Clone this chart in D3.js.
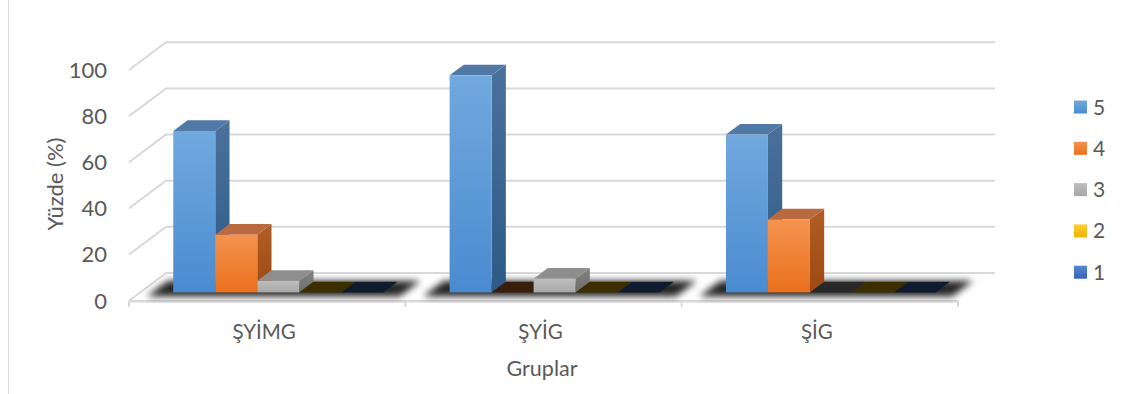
<!DOCTYPE html>
<html>
<head>
<meta charset="utf-8">
<script src="https://cdn.jsdelivr.net/npm/d3@7/dist/d3.min.js"></script>
<style>
  html, body { margin: 0; padding: 0; background: #fff; }
  svg { display: block; }
  text { font-family: Lato, "Open Sans", "Liberation Sans", sans-serif; fill: #595959; }
</style>
</head>
<body>
<svg id="chart" width="1134" height="394"></svg>
<script>
// Response share (%) per group, one array per rating level
const categories = ["ŞYİMG", "ŞYİG", "ŞİG"];
const seriesNames = ["5", "4", "3", "2", "1"];
const values5 = [70, 94.1, 68.4];
const values4 = [25, 0, 31.6];
const values3 = [5, 5.9, 0];
const values2 = [0, 0, 0];
const values1 = [0, 0, 0];
const yTicks = [0, 20, 40, 60, 80, 100];
const yTitle = "Yüzde (%)";
const xTitle = "Gruplar";

const seriesValues = [values5, values4, values3, values2, values1];
const seriesColors = ["#5B9BD5", "#ED7D31", "#A5A5A5", "#FFC000", "#4472C4"];
// face shading for each series: [front top, front bottom, side top, side bottom, top]
const shades = [
  ["#71a9de", "#4a8bd0", "#4b719b", "#2d5a87", "#5079a6"],
  ["#f4934f", "#ea711d", "#b05d26", "#9c4a12", "#b96b3f"],
  ["#bdbdbd", "#a8a8a8", "#808080", "#6f6f6f", "#8e8e8e"],
  ["#ffcc33", "#f0b400", "#b38700", "#a07800", "#c29200"],
  ["#5a86d4", "#3563b8", "#2f5191", "#25437c", "#3a5f9e"]
];

const svg = d3.select("#chart");
const defs = svg.append("defs");

// oblique projection: depth runs up and to the right
const DX = 37, DY = -27.7;
const x0 = 129, x1 = 958;
const y = d3.scaleLinear().domain([0, 100]).range([300.7, 70]);
const xBand = d3.scaleBand().domain(categories).range([x0, x1]).padding(0);
const xSeries = d3.scaleBand().domain(seriesNames).range([0, xBand.bandwidth()])
  .paddingInner(0).paddingOuter(0.79);

// depth slot occupied by the columns
const dFront = 0.30, dBack = 0.685;
const proj = (px, v, d) => [px + DX * d, y(v) + DY * d];

// chart area border (left edge)
svg.append("line").attr("x1", 8.5).attr("x2", 8.5).attr("y1", 0).attr("y2", 394)
  .attr("stroke", "#d9d9d9").attr("stroke-width", 1);

// gradients
shades.forEach((s, i) => {
  const gf = defs.append("linearGradient").attr("id", "front" + i)
    .attr("x1", 0).attr("y1", 0).attr("x2", 0).attr("y2", 1);
  gf.append("stop").attr("offset", 0).attr("stop-color", s[0]);
  gf.append("stop").attr("offset", 1).attr("stop-color", s[1]);
  const gs = defs.append("linearGradient").attr("id", "side" + i)
    .attr("x1", 0).attr("y1", 0).attr("x2", 0).attr("y2", 1);
  gs.append("stop").attr("offset", 0).attr("stop-color", s[2]);
  gs.append("stop").attr("offset", 1).attr("stop-color", s[3]);
});
const blur = defs.append("filter").attr("id", "soft")
  .attr("x", "-20%").attr("y", "-100%").attr("width", "140%").attr("height", "300%");
blur.append("feGaussianBlur").attr("stdDeviation", 3.5);

// walls: gridlines with their slanted side-wall segment
const grid = svg.append("g");
yTicks.forEach(t => {
  const a = proj(x0, t, 0), b = proj(x0, t, 1), c = proj(x1, t, 1);
  grid.append("path")
    .attr("d", d3.line()([a, b, c]))
    .attr("fill", "none").attr("stroke", "#d9d9d9").attr("stroke-width", 2);
});

// floor front edge and category ticks
svg.append("line").attr("x1", x0).attr("x2", x1).attr("y1", y(0) + 0.5).attr("y2", y(0) + 0.5)
  .attr("stroke", "#d9d9d9").attr("stroke-width", 2.5);
xBand.domain().concat([null]).forEach(c => {
  const xx = c === null ? x1 : xBand(c);
  svg.append("line").attr("x1", xx).attr("x2", xx).attr("y1", y(0)).attr("y2", y(0) + 6)
    .attr("stroke", "#d9d9d9").attr("stroke-width", 2);
});

// soft floor shadow under each cluster
categories.forEach(c => {
  const s = xBand(c) + 12, e = xBand(c) + 265;
  const pts = [proj(s, 0, 0.15), proj(e, 0, 0.15), proj(e, 0, 0.72), proj(s, 0, 0.72)];
  svg.append("path").attr("d", d3.line()(pts) + "Z")
    .attr("fill", "#000").attr("opacity", 0.85).attr("filter", "url(#soft)");
});

// 3D columns, drawn left to right so each one overlaps its neighbour's side
const bars = svg.append("g");
categories.forEach((c, ci) => {
  seriesNames.forEach((s, si) => {
    const v = seriesValues[si][ci];
    const bx0 = xBand(c) + xSeries(s);
    const bx1 = bx0 + xSeries.bandwidth();
    const fTL = proj(bx0, v, dFront), fTR = proj(bx1, v, dFront);
    const fBR = proj(bx1, 0, dFront), fBL = proj(bx0, 0, dFront);
    const bTL = proj(bx0, v, dBack), bTR = proj(bx1, v, dBack), bBR = proj(bx1, 0, dBack);
    const g = bars.append("g");
    if (v <= 0) {
      // empty column: only its dark footprint shows
      g.append("path").attr("d", d3.line()([fTL, fTR, bTR, bTL]) + "Z")
        .attr("fill", d3.color(seriesColors[si]).darker(4).formatHex());
      return;
    }
    g.append("path").attr("d", d3.line()([fTR, bTR, bBR, fBR]) + "Z")
      .attr("fill", `url(#side${si})`);
    g.append("path").attr("d", d3.line()([fTL, fTR, bTR, bTL]) + "Z")
      .attr("fill", shades[si][4]);
    g.append("rect").attr("x", fTL[0]).attr("y", fTL[1])
      .attr("width", fTR[0] - fTL[0]).attr("height", fBL[1] - fTL[1])
      .attr("fill", `url(#front${si})`);
  });
});

// value axis labels (front plane)
yTicks.forEach(t => {
  svg.append("text").attr("x", 107).attr("y", y(t)).attr("dy", "0.36em")
    .attr("text-anchor", "end").attr("font-size", 22).text(t);
});

// category labels
categories.forEach(c => {
  svg.append("text").attr("x", xBand(c) + xBand.bandwidth() / 2 - 3).attr("y", 332)
    .attr("dy", "0.36em").attr("text-anchor", "middle").attr("font-size", 20.5).text(c);
});

// axis titles
svg.append("text").attr("x", 542).attr("y", 368).attr("dy", "0.36em")
  .attr("text-anchor", "middle").attr("font-size", 21.5).text(xTitle);
svg.append("text").attr("transform", "translate(55,184) rotate(-90)")
  .attr("dy", "0.36em").attr("text-anchor", "middle").attr("font-size", 22).text(yTitle);

// legend
const legend = svg.append("g").attr("transform", "translate(1074,107)");
seriesNames.forEach((s, i) => {
  const gy = i * 41.3;
  const lg = defs.append("linearGradient").attr("id", "leg" + i)
    .attr("x1", 0).attr("y1", 0).attr("x2", 0).attr("y2", 1);
  lg.append("stop").attr("offset", 0).attr("stop-color", shades[i][0]);
  lg.append("stop").attr("offset", 1).attr("stop-color", shades[i][1]);
  legend.append("rect").attr("x", 0).attr("y", gy - 6.5).attr("width", 13).attr("height", 13)
    .attr("fill", `url(#leg${i})`);
  legend.append("text").attr("x", 19).attr("y", gy).attr("dy", "0.36em")
    .attr("font-size", 21).text(s);
});
</script>
</body>
</html>
